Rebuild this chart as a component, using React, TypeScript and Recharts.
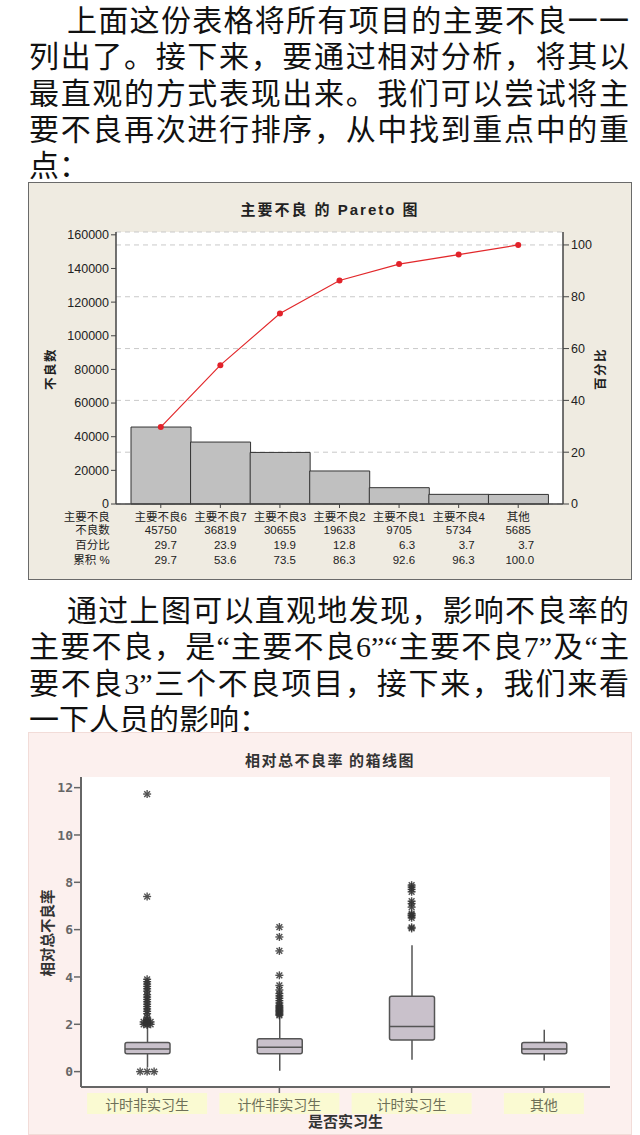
import React from 'react';
import { ComposedChart, Bar, Line, Scatter, XAxis, YAxis, CartesianGrid } from 'recharts';

// Pareto data
const defectNames = ['主要不良6', '主要不良7', '主要不良3', '主要不良2', '主要不良1', '主要不良4', '其他'];
const defectCounts = [45750, 36819, 30655, 19633, 9705, 5734, 5685];
const defectPct = [29.7, 23.9, 19.9, 12.8, 6.3, 3.7, 3.7];
const defectCum = [29.7, 53.6, 73.5, 86.3, 92.6, 96.3, 100.0];
const countTicks = [0, 20000, 40000, 60000, 80000, 100000, 120000, 140000, 160000];
const pctTicks = [0, 20, 40, 60, 80, 100];
const tableRowLabels = ['主要不良', '不良数', '百分比', '累积 %'];

// box plot data
const groups = ['计时非实习生', '计件非实习生', '计时实习生', '其他'];
const whiskerLow = [0.18, 0.04, 0.5, 0.47];
const quartile1 = [0.75, 0.75, 1.34, 0.75];
const medians = [0.96, 1.03, 1.91, 0.96];
const quartile3 = [1.23, 1.39, 3.18, 1.23];
const whiskerHigh = [1.88, 2.3, 5.34, 1.77];
const outliersG1 = [0, 0, 0, 1.97, 2.0, 2.0, 2.03, 2.06, 2.1, 2.1, 2.15, 2.2, 2.3, 2.45, 2.55, 2.65, 2.75, 2.85, 2.95, 3.05, 3.15, 3.25, 3.4, 3.5, 3.6, 3.7, 3.8, 3.9, 7.4, 11.73];
const outliersG2 = [2.38, 2.42, 2.47, 2.52, 2.56, 2.6, 2.65, 2.7, 2.75, 2.8, 2.9, 3.0, 3.1, 3.2, 3.3, 3.45, 3.64, 4.07, 5.1, 5.69, 6.11];
const outliersG3 = [6.05, 6.1, 6.5, 6.58, 6.62, 6.68, 6.95, 7.1, 7.2, 7.6, 7.7, 7.8, 7.88];
const outliersG4: number[] = [];
const rateTicks = [0, 2, 4, 6, 8, 10, 12];

const para1 = [
  '上面这份表格将所有项目的主要不良一一',
  '列出了。接下来，要通过相对分析，将其以',
  '最直观的方式表现出来。我们可以尝试将主',
  '要不良再次进行排序，从中找到重点中的重',
  '点：',
];
const para2 = [
  '通过上图可以直观地发现，影响不良率的',
  '主要不良，是“主要不良6”“主要不良7”及“主',
  '要不良3”三个不良项目，接下来，我们来看',
  '一下人员的影响：',
];

const paretoData = defectNames.map((name, i) => ({ name, count: defectCounts[i], cum: defectCum[i] }));
const total = defectCounts.reduce((a, b) => a + b, 0);

const boxData = groups.map((name, i) => ({
  name,
  range: [whiskerLow[i], whiskerHigh[i]],
  lo: whiskerLow[i],
  q1: quartile1[i],
  med: medians[i],
  q3: quartile3[i],
  hi: whiskerHigh[i],
}));

// tied outliers are drawn side by side, like Minitab does
const outlierData = [outliersG1, outliersG2, outliersG3, outliersG4].flatMap((vals, g) => {
  const seen: Record<string, number> = {};
  const counts: Record<string, number> = {};
  vals.forEach((v) => (counts[v] = (counts[v] || 0) + 1));
  return vals.map((v) => {
    const k = seen[v] || 0;
    seen[v] = k + 1;
    return { name: groups[g], v, shift: (k - (counts[v] - 1) / 2) * 7 };
  });
});

const chartFont = '"Liberation Sans", "Noto Sans CJK SC", sans-serif';
const cjk = '"Noto Sans CJK SC", sans-serif';

function TextLine({ text, left, centerY, justify }: any) {
  return (
    <div
      style={{
        position: 'absolute',
        left,
        top: centerY - 19.5,
        width: 629 - left,
        height: 36,
        lineHeight: '36px',
        fontSize: 30,
        whiteSpace: 'nowrap',
        color: '#111',
        textAlign: justify ? 'justify' : 'left',
        textAlignLast: justify ? 'justify' : 'left',
      } as any}
    >
      {text}
    </div>
  );
}

const TableTick = (props: any) => {
  const { x, y, payload } = props;
  const i = defectNames.indexOf(payload.value);
  const rows = [9, 22, 37, 52];
  return (
    <g fontSize={11.5} fill="#222" fontFamily={chartFont}>
      {i === 0 &&
        tableRowLabels.map((t, r) => (
          <text key={t} x={x - 51} y={y + rows[r]} textAnchor="end" dominantBaseline="central" fill="#222">
            {t}
          </text>
        ))}
      <text x={x} y={y + rows[0]} textAnchor="middle" dominantBaseline="central" fill="#222">{defectNames[i]}</text>
      <text x={x} y={y + rows[1]} textAnchor="middle" dominantBaseline="central" fill="#222">{defectCounts[i]}</text>
      <text x={x + 16} y={y + rows[2]} textAnchor="end" dominantBaseline="central" fill="#222">{defectPct[i].toFixed(1)}</text>
      <text x={x + 16} y={y + rows[3]} textAnchor="end" dominantBaseline="central" fill="#222">{defectCum[i].toFixed(1)}</text>
    </g>
  );
};

const GroupTick = (props: any) => {
  const { x, y, payload } = props;
  const label = String(payload.value);
  const w = Math.min(120, 26 * label.length + 28);
  return (
    <g>
      <rect x={x - w / 2} y={y} width={w} height={21} fill="#fafad2" />
      <text x={x} y={y + 10.5} textAnchor="middle" dominantBaseline="central" fontSize={14} fontFamily={cjk} fill="#6e7058">
        {label}
      </text>
    </g>
  );
};

const BoxShape = (props: any) => {
  const { x, y, width, height, payload } = props;
  const top = Math.min(y, y + height);
  const h = Math.abs(height);
  const py = (v: number) => top + ((payload.hi - v) / (payload.hi - payload.lo)) * h;
  const cx = x + width / 2;
  return (
    <g>
      <line x1={cx} x2={cx} y1={py(payload.hi)} y2={py(payload.lo)} stroke="#555" strokeWidth={1.5} />
      <rect x={x} y={py(payload.q3)} width={width} height={py(payload.q1) - py(payload.q3)} rx={2} fill="#c9c1cb" stroke="#555" strokeWidth={1.5} />
      <line x1={x} x2={x + width} y1={py(payload.med)} y2={py(payload.med)} stroke="#555" strokeWidth={1.5} />
    </g>
  );
};

const Star = (props: any) => {
  const { cx, cy, payload } = props;
  if (cx == null || cy == null) return null;
  const c = cx + (payload?.shift || 0);
  const r = 4;
  const d = r * 0.72;
  return (
    <g stroke="#333" strokeWidth={1.4} opacity={0.85}>
      <line x1={c - r} x2={c + r} y1={cy} y2={cy} />
      <line x1={c} x2={c} y1={cy - r} y2={cy + r} />
      <line x1={c - d} x2={c + d} y1={cy - d} y2={cy + d} />
      <line x1={c - d} x2={c + d} y1={cy + d} y2={cy - d} />
    </g>
  );
};

export default function App() {
  const paraTop1 = 22.5;
  const paraTop2 = 612.5;
  const pitch = 36.3;
  return (
    <div
      style={{
        position: 'absolute',
        left: 0,
        top: 0,
        width: 640,
        height: 1135,
        overflow: 'hidden',
        background: '#fff',
        fontFamily: '"Liberation Serif", "Noto Sans CJK SC", serif',
      }}
    >
      {para1.map((t, i) => (
        <TextLine key={i} text={t} left={i === 0 ? 67 : 29} centerY={paraTop1 + i * pitch} justify={i < para1.length - 1} />
      ))}
      {para2.map((t, i) => (
        <TextLine key={i} text={t} left={i === 0 ? 67 : 29} centerY={paraTop2 + i * pitch} justify={i < para2.length - 1} />
      ))}

      {/* Pareto chart */}
      <div style={{ position: 'absolute', left: 28, top: 182, width: 604, height: 398, boxSizing: 'border-box', border: '1.5px solid #6a6a6a', background: '#efebe1' }} />
      <div style={{ position: 'absolute', left: 28, top: 198, width: 604, textAlign: 'center', fontFamily: chartFont, fontWeight: 'bold', fontSize: 15, letterSpacing: 2, color: '#222' }}>
        主要不良 的 Pareto 图
      </div>
      <div style={{ position: 'absolute', left: 50 - 30, top: 369 - 10, width: 60, height: 20, lineHeight: '20px', textAlign: 'center', transform: 'rotate(-90deg)', fontFamily: cjk, fontWeight: 'bold', fontSize: 12.5, letterSpacing: 1.5, color: '#222' }}>
        不良数
      </div>
      <div style={{ position: 'absolute', left: 600 - 30, top: 369 - 10, width: 60, height: 20, lineHeight: '20px', textAlign: 'center', transform: 'rotate(-90deg)', fontFamily: cjk, fontWeight: 'bold', fontSize: 12.5, letterSpacing: 1.5, color: '#222' }}>
        百分比
      </div>
      <div style={{ position: 'absolute', left: 28, top: 182 }}>
        <ComposedChart width={604} height={398} data={paretoData} margin={{ top: 50, right: 0, bottom: 0, left: 0 }} barCategoryGap={0}>
          <CartesianGrid yAxisId="right" vertical={false} strokeDasharray="5 4" stroke="#c9c9c9" fill="#fff" />
          <XAxis
            dataKey="name"
            height={76}
            padding={{ left: 15, right: 15 }}
            interval={0}
            tickSize={4}
            tickMargin={0}
            axisLine={{ stroke: '#444', strokeWidth: 1.5 }}
            tickLine={{ stroke: '#444' }}
            tick={<TableTick />}
          />
          <XAxis xAxisId="top" dataKey="name" orientation="top" height={0} tick={false} tickLine={false} axisLine={{ stroke: '#444', strokeWidth: 1.5 }} />
          <YAxis
            yAxisId="left"
            width={88}
            domain={[0, total * 1.05]}
            ticks={countTicks}
            interval={0}
            tickSize={5}
            tickMargin={2}
            axisLine={{ stroke: '#444', strokeWidth: 1.5 }}
            tickLine={{ stroke: '#444' }}
            tick={{ fill: '#222', fontSize: 12.5, fontFamily: chartFont }}
          />
          <YAxis
            yAxisId="right"
            orientation="right"
            width={69}
            domain={[0, 105]}
            ticks={pctTicks}
            interval={0}
            tickSize={6}
            tickMargin={2}
            axisLine={{ stroke: '#444', strokeWidth: 1.5 }}
            tickLine={{ stroke: '#444' }}
            tick={{ fill: '#222', fontSize: 12.5, fontFamily: chartFont }}
          />
          <Bar yAxisId="left" dataKey="count" fill="#c0c0c0" stroke="#333" strokeWidth={1} isAnimationActive={false} />
          <Line yAxisId="right" dataKey="cum" stroke="#e2282b" strokeWidth={1.2} dot={{ r: 3, fill: '#e2222a', stroke: 'none' }} isAnimationActive={false} />
        </ComposedChart>
      </div>

      {/* Box plot */}
      <div style={{ position: 'absolute', left: 28, top: 732, width: 604, height: 403, boxSizing: 'border-box', border: '1px solid #f2dcd8', background: '#fcf0ee' }} />
      <div style={{ position: 'absolute', left: 28, top: 749, width: 604, textAlign: 'center', fontFamily: cjk, fontWeight: 'bold', fontSize: 15, letterSpacing: 1.5, color: '#333' }}>
        相对总不良率 的箱线图
      </div>
      <div style={{ position: 'absolute', left: 47 - 60, top: 933 - 11, width: 120, height: 22, lineHeight: '22px', textAlign: 'center', transform: 'rotate(-90deg)', fontFamily: cjk, fontWeight: 'bold', fontSize: 14.5, color: '#333' }}>
        相对总不良率
      </div>
      <div style={{ position: 'absolute', left: 81, top: 1110, width: 529, textAlign: 'center', fontFamily: cjk, fontWeight: 'bold', fontSize: 15, color: '#333' }}>
        是否实习生
      </div>
      <div style={{ position: 'absolute', left: 28, top: 732 }}>
        <ComposedChart width={604} height={403} data={boxData} margin={{ top: 45, right: 22, bottom: 0, left: 0 }}>
          <CartesianGrid horizontal={false} vertical={false} fill="#fff" />
          <XAxis
            dataKey="name"
            height={48}
            allowDuplicatedCategory={false}
            interval={0}
            tickSize={6}
            tickMargin={0}
            axisLine={{ stroke: '#666', strokeWidth: 2 }}
            tickLine={{ stroke: '#666', strokeWidth: 1.5 }}
            tick={<GroupTick />}
          />
          <XAxis xAxisId="top" dataKey="name" orientation="top" height={0} allowDuplicatedCategory={false} tick={false} tickLine={false} axisLine={{ stroke: '#666', strokeWidth: 2 }} />
          <YAxis
            width={53}
            domain={[-0.65, 12.45]}
            ticks={rateTicks}
            interval={0}
            allowDataOverflow
            tickSize={7}
            tickMargin={1}
            axisLine={{ stroke: '#666', strokeWidth: 2 }}
            tickLine={{ stroke: '#666', strokeWidth: 1.5 }}
            tick={{ fill: '#666', fontSize: 13, fontWeight: 'bold', fontFamily: '"DejaVu Sans Mono", monospace' }}
          />
          <YAxis yAxisId="r" orientation="right" width={0} domain={[-0.65, 12.45]} tick={false} tickLine={false} axisLine={{ stroke: '#666', strokeWidth: 2 }} />
          <Bar dataKey="range" barSize={45} shape={<BoxShape />} isAnimationActive={false} />
          <Scatter data={outlierData} dataKey="v" shape={<Star />} isAnimationActive={false} />
        </ComposedChart>
      </div>
    </div>
  );
}
